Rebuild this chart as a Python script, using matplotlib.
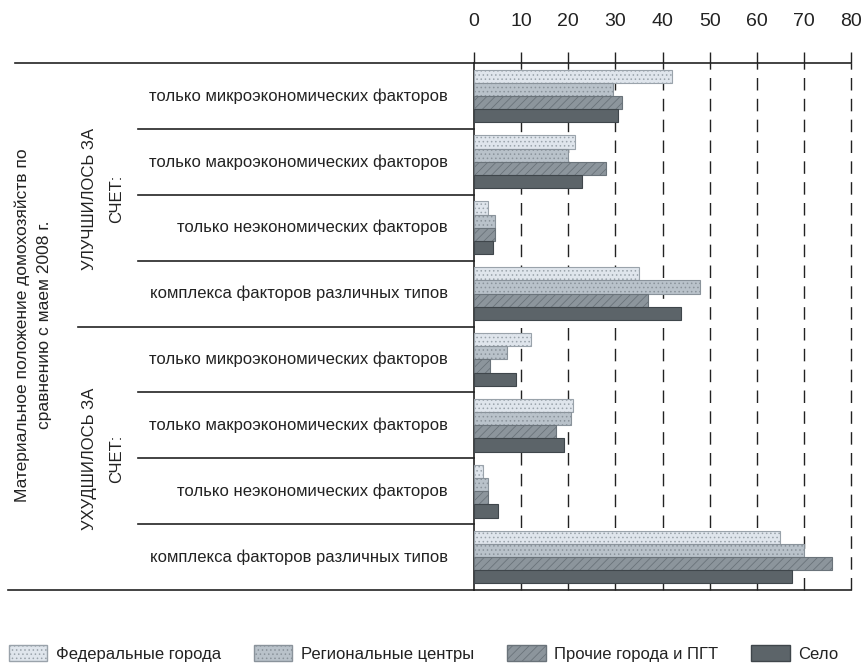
import numpy as np
import matplotlib
matplotlib.use('Agg')
import matplotlib.pyplot as plt
import matplotlib.transforms as mtrans
from matplotlib.lines import Line2D
from matplotlib.patches import Patch

plt.rcParams['font.family'] = ['Liberation Sans Narrow', 'Liberation Sans', 'DejaVu Sans']
plt.rcParams['hatch.linewidth'] = 0.6

factors = ['только микроэкономических факторов',
           'только макроэкономических факторов',
           'только неэкономических факторов',
           'комплекса факторов различных типов']
labels = factors + factors

fed = [42, 21.5, 3, 35, 12, 21, 2, 65]
reg = [29.5, 20, 4.5, 48, 7, 20.5, 3, 70]
oth = [31.5, 28, 4.5, 37, 3.5, 17.5, 3, 76]
selo = [30.5, 23, 4, 44, 9, 19, 5, 67.5]

series = ['Федеральные города', 'Региональные центры', 'Прочие города и ПГТ', 'Село']
colors = ['#dfe5ec', '#b9c2ca', '#8c959c', '#5c6469']
edges = ['#9aa3ab', '#8a939b', '#6a737a', '#3f464b']
hatches = ['....', '....', '////', None]
ink = '#222222'

W, H = 861, 669
fig = plt.figure(figsize=(W / 100, H / 100), dpi=100)
ax = fig.add_axes([474 / W, 1 - 590 / H, 377 / W, 527 / H])

y = np.arange(len(labels))
h = 0.2
for i, vals in enumerate([fed, reg, oth, selo]):
    ax.barh(y - 0.3 + i * h, vals, height=h, color=colors[i], edgecolor=edges[i],
            hatch=hatches[i], linewidth=0.8, zorder=3)

ax.set_xlim(0, 80)
ax.set_ylim(7.5, -0.5)
ax.set_xticks(np.arange(0, 81, 10))
ax.xaxis.tick_top()
ax.tick_params(axis='x', direction='out', length=8, width=1, pad=16, labelsize=14, colors=ink)
ax.set_yticks([])
for x in range(10, 81, 10):
    ax.axvline(x, color=ink, lw=1, linestyle=(0, (9, 6)), zorder=1, clip_on=False)
ax.spines['right'].set_visible(False)
for s in ['top', 'bottom', 'left']:
    ax.spines[s].set_linewidth(1.2)
    ax.spines[s].set_color(ink)

tr = mtrans.blended_transform_factory(fig.transFigure, ax.transData)

# category labels
for yi, lab in zip(y, labels):
    fig.text(448 / W, yi, lab, transform=tr, ha='right', va='center', fontsize=12, color=ink)

# separator lines
def hline(yv, x0, x1):
    fig.add_artist(Line2D([x0 / W, x1 / W], [yv, yv], transform=tr, color=ink, lw=1.2))

hline(-0.5, 15, 474)
hline(7.5, 8, 474)
hline(3.5, 78, 474)
for yv in [0.5, 1.5, 2.5, 4.5, 5.5, 6.5]:
    hline(yv, 138, 474)

fig.text(33 / W, 1 - 325 / H, 'Материальное положение домохозяйств по\nсравнению с маем 2008 г.',
         rotation=90, ha='center', va='center', multialignment='center', fontsize=12.5,
         color=ink, linespacing=1.6)
fig.text(103 / W, 1 - 199 / H, 'УЛУЧШИЛОСЬ ЗА\nСЧЕТ:', rotation=90, ha='center', va='center',
         multialignment='center', fontsize=12, color=ink, linespacing=2.0)
fig.text(103 / W, 1 - 459 / H, 'УХУДШИЛОСЬ ЗА\nСЧЕТ:', rotation=90, ha='center', va='center',
         multialignment='center', fontsize=12, color=ink, linespacing=2.0)

handles = [Patch(facecolor=colors[i], edgecolor=edges[i], hatch=hatches[i], label=series[i])
           for i in range(4)]
fig.legend(handles=handles, loc='lower center', bbox_to_anchor=(0.492, -0.012), ncol=4,
           frameon=False, fontsize=12, handlelength=2.3, handleheight=1.1,
           columnspacing=2.0, handletextpad=0.5, labelcolor=ink)

fig.savefig('out.png', dpi=100)
